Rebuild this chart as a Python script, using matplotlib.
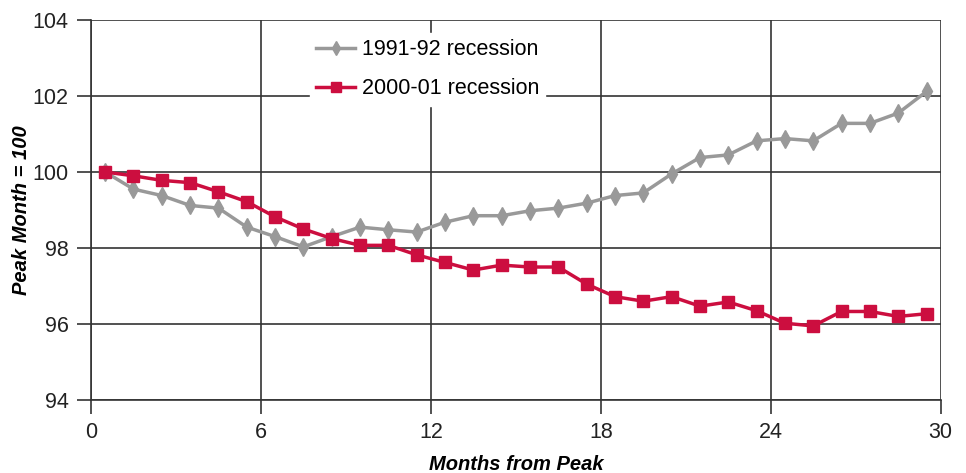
import matplotlib
matplotlib.use("Agg")
import matplotlib.pyplot as plt
from matplotlib import font_manager

# data (index to peak month = 100)
months = [0.5, 1.5, 2.5, 3.5, 4.5, 5.5, 6.5, 7.5, 8.5, 9.5,
          10.5, 11.5, 12.5, 13.5, 14.5, 15.5, 16.5, 17.5, 18.5, 19.5,
          20.5, 21.5, 22.5, 23.5, 24.5, 25.5, 26.5, 27.5, 28.5, 29.5]
rec_1991 = [100.0, 99.55, 99.38, 99.12, 99.05, 98.55, 98.3, 98.03, 98.3, 98.55,
            98.48, 98.42, 98.68, 98.85, 98.85, 98.98, 99.05, 99.18, 99.38, 99.45,
            99.95, 100.38, 100.45, 100.82, 100.88, 100.82, 101.28, 101.28, 101.55, 102.12]
rec_2000 = [100.0, 99.9, 99.78, 99.72, 99.48, 99.22, 98.82, 98.5, 98.25, 98.07,
            98.07, 97.82, 97.62, 97.42, 97.55, 97.5, 97.5, 97.05, 96.72, 96.6,
            96.72, 96.47, 96.58, 96.35, 96.02, 95.95, 96.33, 96.33, 96.2, 96.27]
x_ticks = [0, 6, 12, 18, 24, 30]
y_ticks = [94, 96, 98, 100, 102, 104]

# narrow font if available
names = {f.name for f in font_manager.fontManager.ttflist}
font = "Liberation Sans Narrow" if "Liberation Sans Narrow" in names else "Liberation Sans"
plt.rcParams["font.family"] = [font, "DejaVu Sans"]
narrow = font == "Liberation Sans Narrow"
fs = 17 if narrow else 15.5

fig = plt.figure(figsize=(9.66, 4.73), dpi=100)
ax = fig.add_axes([0.0942, 0.1543, 0.8796, 0.8034])

ax.plot(months, rec_1991, color="#999999", lw=2.5, marker="d", ms=9,
        label="1991-92 recession", zorder=3)
ax.plot(months, rec_2000, color="#cc0e3f", lw=2.5, marker="s", ms=8.5,
        label="2000-01 recession", zorder=4)

ax.set_xlim(0, 30)
ax.set_ylim(94, 104)
ax.set_xticks(x_ticks)
ax.set_yticks(y_ticks)
ax.grid(True, color="#333333", lw=1.2)
ax.set_axisbelow(True)
for s in ["top", "right"]:
    ax.spines[s].set_visible(False)
for s in ["left", "bottom"]:
    ax.spines[s].set_color("#333333")
    ax.spines[s].set_linewidth(1.2)
ax.tick_params(direction="out", length=10, width=1.2, color="#333333",
               labelsize=fs, labelcolor="#222222", pad=6)

ax.set_xlabel("Months from Peak", fontsize=14.5, fontweight="bold", style="italic")
ax.xaxis.set_label_coords(0.5, -0.145)
ax.set_ylabel("Peak Month = 100", fontsize=14.5, fontweight="bold", style="italic")
ax.yaxis.set_label_coords(-0.071, 0.5)

leg = ax.legend(loc="upper left", bbox_to_anchor=(0.245, 0.995), fontsize=fs,
                frameon=True, framealpha=1, edgecolor="white", fancybox=False,
                handlelength=1.8, handletextpad=0.3, labelspacing=0.85,
                borderpad=0.3, markerscale=0.8)
leg.set_zorder(5)

fig.savefig("out.png", dpi=100)
